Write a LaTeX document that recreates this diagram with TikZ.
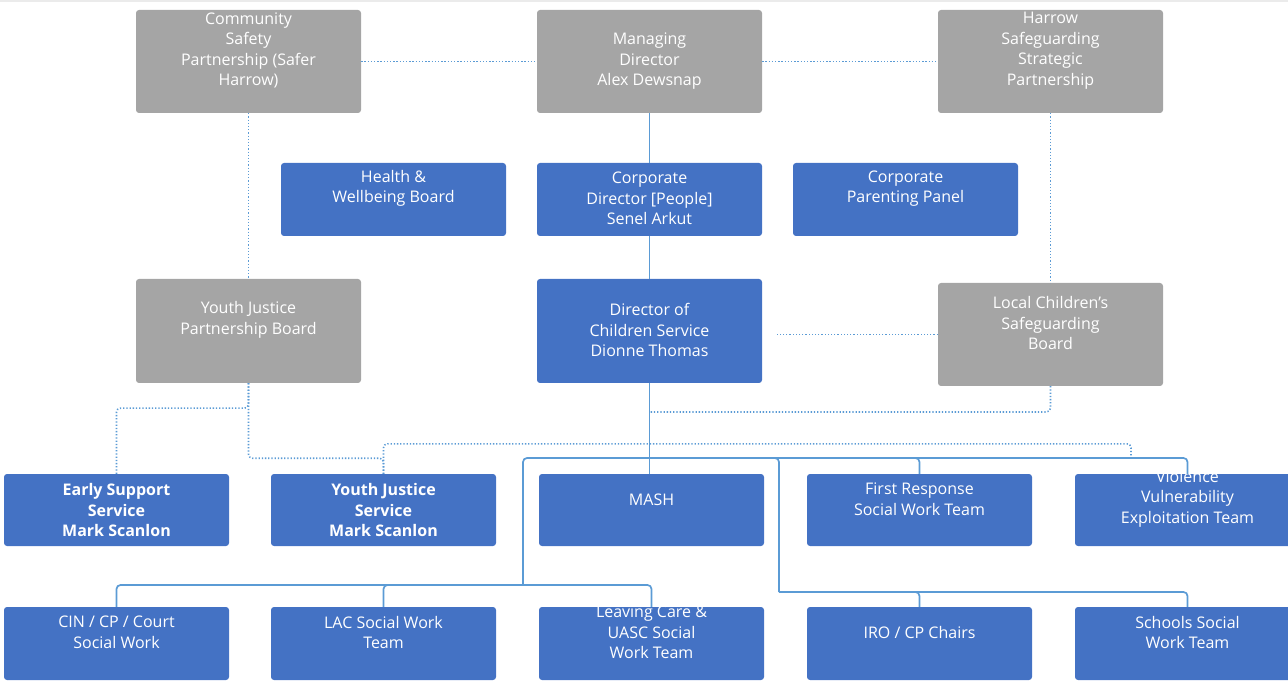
\documentclass[tikz,border=0pt]{standalone}
\usepackage{fontspec}
\setmainfont{Open Sans}
\usetikzlibrary{positioning}
\definecolor{boxblue}{HTML}{4472C4}
\definecolor{boxgrey}{HTML}{A5A5A5}
\definecolor{linkblue}{HTML}{5B9BD5}
\tikzset{
  orgbox/.style={rounded corners=3pt, minimum width=225pt, inner sep=0pt},
  bluebox/.style={orgbox, fill=boxblue},
  greybox/.style={orgbox, fill=boxgrey},
  txt/.style={text=white, align=center, inner sep=0pt,
    font=\fontsize{16}{20.5}\selectfont},
  solidln/.style={draw=linkblue, line width=1.7pt, rounded corners=4pt},
  dotln/.style={draw=linkblue, line width=1.6pt, dash pattern=on 1.3pt off 1.9pt,
    rounded corners=4pt}
}
\begin{document}
\begin{tikzpicture}[x=1pt, y=-1pt]
  \useasboundingbox (0,0) rectangle (1288,692);
  \fill[black!8] (0,0) rectangle (1288,2);

  \def\ca{116.5}; \def\cb{248.5}; \def\cc{383.5}; \def\cd{393.5};
  \def\ce{649.5}; \def\cf{651.5}; \def\cg{905.5}; \def\ch{919.5};
  \def\ci{1050.5}; \def\cj{1187.5};

  % top row
  \node[greybox, minimum height=103pt] (csp) at (\cb,61.5) {};
  \node[greybox, minimum height=103pt] (md) at (\ce,61.5) {};
  \node[greybox, minimum height=103pt] (hssp) at (\ci,61.5) {};

  \node[bluebox, minimum height=73pt] (hw) at (\cd,199.5) {};
  \node[bluebox, minimum height=73pt] (cdp) at (\ce,199.5) {};
  \node[bluebox, minimum height=73pt] (cpp) at (\cg,199.5) {};

  \node[greybox, minimum height=104pt] (yjpb) at (\cb,331) {};
  \node[bluebox, minimum height=104pt] (dcs) at (\ce,331) {};
  \node[greybox, minimum height=103pt] (lcsb) at (\ci,334.5) {};

  % services
  \node[bluebox, minimum height=72pt] (ess) at (\ca,510) {};
  \node[bluebox, minimum height=72pt] (yjs) at (\cc,510) {};
  \node[bluebox, minimum height=72pt] (mash) at (\cf,510) {};
  \node[bluebox, minimum height=72pt] (frsw) at (\ch,510) {};
  \node[bluebox, minimum height=72pt] (vve) at (\cj,510) {};

  \node[bluebox, minimum height=73pt] (cin) at (\ca,643.5) {};
  \node[bluebox, minimum height=73pt] (lac) at (\cc,643.5) {};
  \node[bluebox, minimum height=73pt] (lcu) at (\cf,643.5) {};
  \node[bluebox, minimum height=73pt] (iro) at (\ch,643.5) {};
  \node[bluebox, minimum height=73pt] (sswt) at (\cj,643.5) {};

  % texts
  \node[txt] (cspT) at ([yshift=11pt]csp.center) {Community\\Safety\\Partnership (Safer\\Harrow)};
  \node[txt] (mdT) at (md.center) {Managing\\Director\\Alex Dewsnap};
  \node[txt] (hsspT) at ([yshift=11pt]hssp.center) {Harrow\\Safeguarding\\Strategic\\Partnership};
  \node[txt] (hwT) at ([yshift=11pt]hw.center) {Health \&\\Wellbeing Board};
  \node[txt] (cdpT) at ([yshift=1pt]cdp.center) {Corporate\\Director [People]\\Senel Arkut};
  \node[txt] (cppT) at ([yshift=11pt]cpp.center) {Corporate\\Parenting Panel};
  \node[txt] (yjpbT) at ([yshift=11pt]yjpb.center) {Youth Justice\\Partnership Board};
  \node[txt] (dcsT) at ([yshift=1pt]dcs.center) {Director of\\Children Service\\Dionne Thomas};
  \node[txt] (lcsbT) at ([yshift=11pt]lcsb.center) {Local Children’s\\Safeguarding\\Board};
  \node[txt, font=\fontsize{16}{20.5}\selectfont\bfseries] (essT) at (ess.center) {Early Support\\Service\\Mark Scanlon};
  \node[txt, font=\fontsize{16}{20.5}\selectfont\bfseries] (yjsT) at (yjs.center) {Youth Justice\\Service\\Mark Scanlon};
  \node[txt] (mashT) at ([yshift=10pt]mash.center) {MASH};
  \node[txt] (frswT) at ([yshift=11pt]frsw.center) {First Response\\Social Work Team};
  \node[txt] (vveT) at ([yshift=11.5pt]vve.center) {Violence\\Vulnerability\\Exploitation Team};
  \node[txt] (cinT) at ([yshift=11pt]cin.center) {CIN / CP / Court\\Social Work};
  \node[txt] (lacT) at ([yshift=11pt]lac.center) {LAC Social Work\\Team};
  \node[txt] (lcuT) at ([yshift=11pt]lcu.center) {Leaving Care \&\\UASC Social\\Work Team};
  \node[txt] (iroT) at ([yshift=11.5pt]iro.center) {IRO / CP Chairs};
  \node[txt] (sswtT) at ([yshift=11pt]sswt.center) {Schools Social\\Work Team};

  % line management
  \coordinate (busTop) at (\ce,458);
  \coordinate (busLeft) at (523,585);
  \coordinate (busRight) at (779,592);
  \draw[solidln] (md.south) -- (cdp.north);
  \draw[solidln] (cdp.south) -- (dcs.north);
  \draw[solidln] (dcs.south) -- (dcs.south |- mash.north);
  \draw[solidln] (busTop) -| (frsw.north);
  \draw[solidln] (busTop) -| (vve.north);
  \draw[solidln] (busTop) -| (busLeft);
  \draw[solidln] (busLeft) -| (cin.north);
  \draw[solidln] (busLeft) -| (lac.north);
  \draw[solidln] (busLeft) -| (lcu.north);
  \draw[solidln] (busTop) -| (busRight);
  \draw[solidln] (busRight) -| (iro.north);
  \draw[solidln] (busRight) -| (sswt.north);

  % partnerships
  \coordinate (lcsbJoin) at (\ce,412);
  \coordinate (vveTick) at (1131,458);
  \draw[dotln] (csp.east) -- (md.west);
  \draw[dotln] (md.east) -- (hssp.west);
  \draw[dotln] (csp.south) -- (yjpb.north);
  \draw[dotln] (hssp.south) -- (lcsb.north);
  \draw[dotln] (lcsb.west) -- ([xshift=15pt]dcs.east |- lcsb.west);
  \draw[dotln] (lcsb.south) |- (lcsbJoin);
  \draw[dotln] (yjpb.south) -- ++(0,25) -| (ess.north);
  \draw[dotln] (yjpb.south) -- ++(0,75) -| (yjs.north);
  \draw[dotln] (yjs.north) -- ++(0,-30) -| (vveTick);
\end{tikzpicture}
\end{document}
